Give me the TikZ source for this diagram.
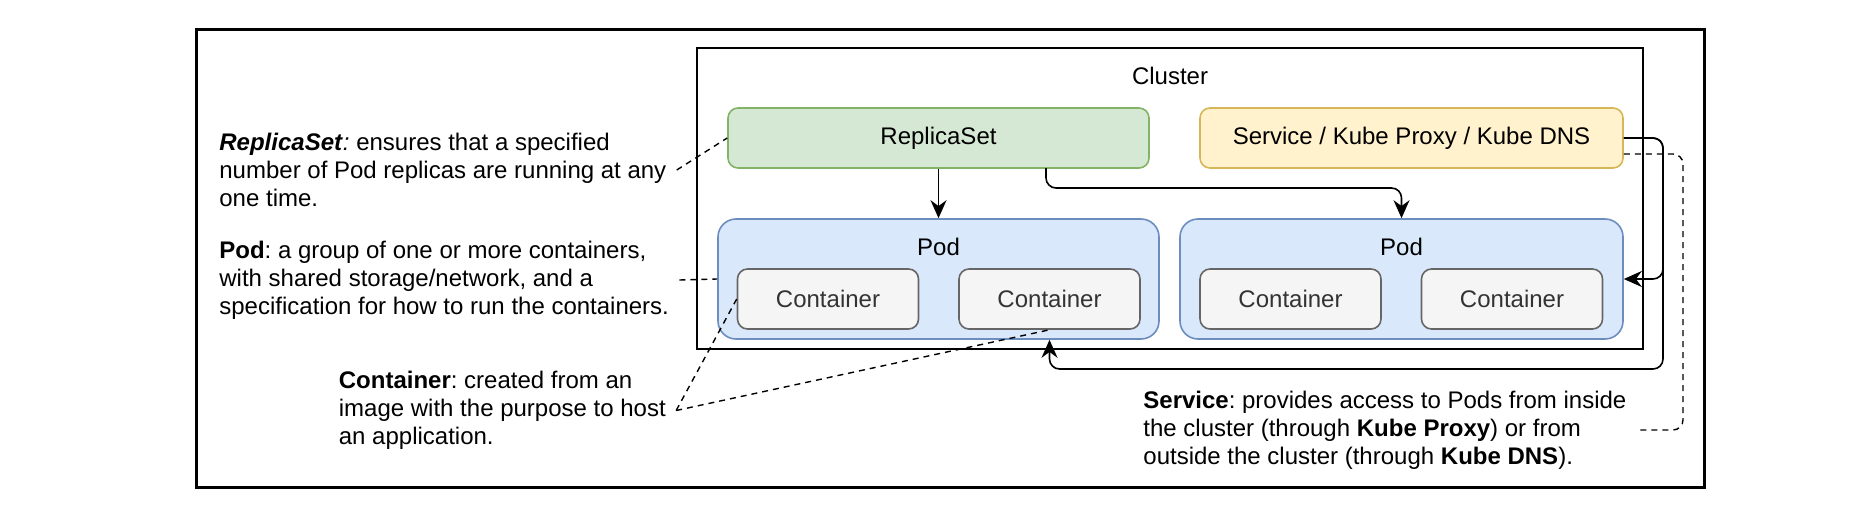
\documentclass[tikz,border=0pt]{standalone}
\usepackage{fontspec}
\setmainfont{Liberation Sans}
\usetikzlibrary{arrows.meta}
\frenchspacing
\definecolor{rsfill}{HTML}{D5E8D4}
\definecolor{rsline}{HTML}{82B366}
\definecolor{svcfill}{HTML}{FFF2CC}
\definecolor{svcline}{HTML}{D6B656}
\definecolor{podfill}{HTML}{DAE8FC}
\definecolor{podline}{HTML}{6C8EBF}
\definecolor{ctrfill}{HTML}{F5F5F5}
\definecolor{ctrline}{HTML}{666666}
\definecolor{ctrtext}{HTML}{333333}
\begin{document}
\begin{tikzpicture}[
        x=0.5pt, y=-0.5pt,
        every node/.style={font=\fontsize{12}{14.1}\selectfont},
        box/.style={draw, rounded corners=5pt, line width=0.8pt, inner sep=0pt, minimum height=30pt},
        podbox/.style={draw=podline, fill=podfill, rounded corners=9pt, line width=0.8pt, minimum height=60pt,
            label={[anchor=center, yshift=-14.5pt]north:Pod}},
        ctr/.style={box, draw=ctrline, fill=ctrfill, text=ctrtext, minimum width=90.5pt},
        desc/.style={align=left, inner xsep=5pt, inner ysep=0pt, anchor=west},
        arr/.style={draw, line width=0.8pt, rounded corners=5pt, -{Stealth[length=9pt, width=8pt]}},
        note/.style={draw, line width=0.7pt, dash pattern=on 3pt off 2.5pt}
    ]
        \useasboundingbox (0,0) rectangle (1856,508);
        \draw[line width=1.5pt] (196,30) rectangle (1704,487);

        \node[draw, line width=1pt, minimum width=473pt, minimum height=150.5pt,
            label={[anchor=center, yshift=-14.5pt]north:Cluster}] (cluster) at (1170,198.5) {};

        \node[box, draw=rsline, fill=rsfill, minimum width=210.5pt] (rs) at (938.5,138) {ReplicaSet};
        \node[box, draw=svcline, fill=svcfill, minimum width=211.5pt] (svc) at (1411.5,138) {Service / Kube Proxy / Kube DNS};

        \node[podbox, minimum width=220.5pt] (pod1) at (938.5,279) {};
        \node[podbox, minimum width=221.5pt] (pod2) at (1401.5,279) {};
        \node[ctr] (c1) at (828,299) {Container};
        \node[ctr] (c2) at (1049.5,299) {Container};
        \node[ctr] (c3) at (1290.5,299) {Container};
        \node[ctr] (c4) at (1512,299) {Container};

        \node[desc] (rsnote) at (209,170) {\textbf{\textit{ReplicaSet}}\textit{:} ensures that a specified\\
            number of Pod replicas are running at any\\ one time.};
        \node[desc] (podnote) at (209,280) {\textbf{Pod}: a group of one or more containers,\\
            with shared storage/network, and a\\ specification for how to run the containers.};
        \node[desc] (ctrnote) at (328.5,410.5) {\textbf{Container}: created from an\\
            image with the purpose to host\\ an application.};
        \node[desc] (svcnote) at (1133,430) {\textbf{Service}: provides access to Pods from inside\\
            the cluster (through \textbf{Kube Proxy}) or from\\ outside the cluster (through \textbf{Kube DNS}).};

        \coordinate (rsout) at (1046,168);
        \coordinate (svcbot) at (1663,369);
        \coordinate (dnsbend) at (1683,430);

        \draw[arr] (rs) -- (pod1);
        \draw[arr] (rsout) -- ++(0,-10pt) -| (pod2.north);
        \draw[arr] (svc.east) -| (svcbot |- pod2.east) -- (pod2.east);
        \draw[arr] (svc.east) -| (svcbot) -| (c2.south |- pod1.south);

        \draw[note] (rsnote.east) -- (rs.west);
        \draw[note] (podnote.east) -- (pod1.west);
        \draw[note] (ctrnote.east) -- (c1.west);
        \draw[note] (ctrnote.east) -- (c2.south);
        \draw[note, rounded corners=5pt] ([yshift=-8pt]svc.east) -| (dnsbend) -- (svcnote.east);
    \end{tikzpicture}
\end{document}
